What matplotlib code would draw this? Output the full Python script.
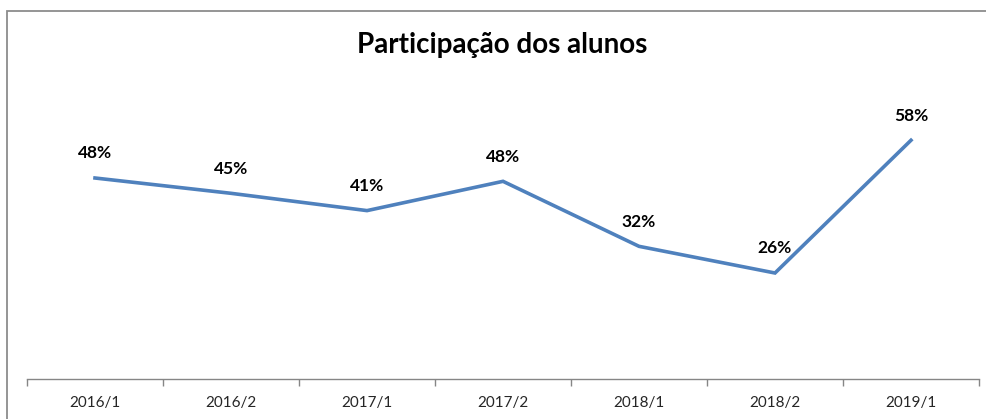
import matplotlib
matplotlib.use("Agg")
import matplotlib.pyplot as plt
from matplotlib.patches import Rectangle
import numpy as np

categories = ["2016/1", "2016/2", "2017/1", "2017/2", "2018/1", "2018/2", "2019/1"]
participation = [0.4845, 0.4476, 0.4059, 0.4765, 0.3198, 0.2555, 0.5755]
title = "Participação dos alunos"

FONT = ["Lato", "DejaVu Sans"]
LINE_COLOR = "#4F81BD"
AXIS_COLOR = "#868686"

fig = plt.figure(figsize=(9.86, 4.19), dpi=100)
fig.patch.set_facecolor("white")

# chart border (Excel-style frame, partially cut)
fig.add_artist(Rectangle((7 / 986, -0.1), 1.1, (1 - 11 / 419) + 0.1,
                         transform=fig.transFigure, fill=False,
                         edgecolor="#8C8C8C", linewidth=1.3))

ax = fig.add_axes([27 / 986, 1 - 379 / 419, (979 - 27) / 986, (379 - 88.6) / 419])
x = np.arange(len(categories))
ax.plot(x, participation, color=LINE_COLOR, linewidth=2.6, solid_joinstyle="miter")

for xi, v in zip(x, participation):
    ax.annotate(f"{round(v * 100):d}%", (xi, v), xytext=(0, 12), textcoords="offset points",
                ha="center", va="bottom", fontsize=12.5, fontweight="bold",
                family=FONT, color="black")

ax.set_xlim(-0.5, len(categories) - 0.5)
ax.set_ylim(0, 0.7)
ax.set_yticks([])
ax.set_xticks(x)
ax.set_xticklabels(categories, family=FONT, fontsize=11, color="#262626")
ax.set_xticks(np.arange(-0.5, len(categories)), minor=True)
ax.tick_params(axis="x", which="major", length=0, pad=12)
ax.tick_params(axis="x", which="minor", length=5, width=1, color=AXIS_COLOR, direction="out")

for s in ["top", "right", "left"]:
    ax.spines[s].set_visible(False)
ax.spines["bottom"].set_color(AXIS_COLOR)
ax.spines["bottom"].set_linewidth(1)
ax.patch.set_alpha(0)

fig.text(502 / 986, 1 - 45 / 419, title, ha="center", va="center",
         fontsize=20, fontweight="bold", family=FONT, color="black")

fig.savefig("out.png", dpi=100)
